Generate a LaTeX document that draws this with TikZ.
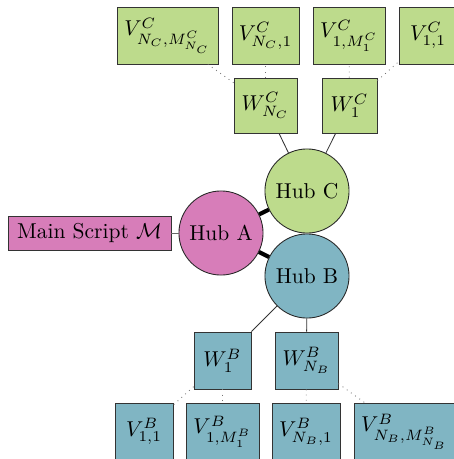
\documentclass[tikz,border=0pt]{standalone}
\usetikzlibrary{calc}
\definecolor{hubgreen}{RGB}{189,219,140}
\definecolor{hubpink}{RGB}{215,125,185}
\definecolor{hubblue}{RGB}{128,181,195}
\tikzset{
  hubnode/.style={circle, draw=black!85, thin, minimum size=39.1pt, inner sep=0pt},
  boxnode/.style={rectangle, draw=black!80, thin, minimum height=26.5pt, inner sep=0pt},
  hubedge/.style={line width=1.9pt, black},
  solidedge/.style={black!80, thin},
  dotedge/.style={black!55, dotted, thin},
}
\begin{document}
\begin{tikzpicture}[x=0.465pt, y=-0.465pt]
\useasboundingbox (0,0) rectangle (454,459);

% hubs
\node[hubnode, fill=hubpink]  (hubA) at (221,233) {Hub A};
\node[hubnode, fill=hubgreen] (hubC) at (307,191) {Hub C};
\node[hubnode, fill=hubblue]  (hubB) at (307,276) {Hub B};

% main script
\node[boxnode, fill=hubpink, minimum width=75.8pt, minimum height=15.8pt] (main) at (89.5,233) {Main Script $\mathcal{M}$};

% hub C workers and their tasks
\node[boxnode, fill=hubgreen, minimum width=29.3pt, minimum height=25.6pt] (wCN) at (265.5,105.5) {$W^C_{N_C}$};
\node[boxnode, fill=hubgreen, minimum width=25.6pt, minimum height=25.6pt] (wC1) at (349.5,105.5) {$W^C_{1}$};
\node[boxnode, fill=hubgreen, minimum width=47pt]   (vCNM) at (167.5,35.5) {$V^C_{N_C,M^C_{N_C}}$};
\node[boxnode, fill=hubgreen, minimum width=31.2pt] (vCN1) at (265.5,35.5) {$V^C_{N_C,1}$};
\node[boxnode, fill=hubgreen, minimum width=33.5pt] (vC1M) at (349,35.5)   {$V^C_{1,M^C_1}$};
\node[boxnode, fill=hubgreen, minimum width=27pt]   (vC11) at (428,35.5)   {$V^C_{1,1}$};

% hub B workers and their tasks
\node[boxnode, fill=hubblue, minimum width=26.5pt] (wB1) at (222.5,360.5) {$W^B_{1}$};
\node[boxnode, fill=hubblue, minimum width=29.3pt] (wBN) at (306.5,360.5) {$W^B_{N_B}$};
\node[boxnode, fill=hubblue, minimum width=27pt]   (vB11) at (144,431.5)   {$V^B_{1,1}$};
\node[boxnode, fill=hubblue, minimum width=34pt]   (vB1M) at (222.5,431.5) {$V^B_{1,M^B_1}$};
\node[boxnode, fill=hubblue, minimum width=31.6pt] (vBN1) at (306,431.5)   {$V^B_{N_B,1}$};
\node[boxnode, fill=hubblue, minimum width=47pt]   (vBNM) at (404.5,431.5) {$V^B_{N_B,M^B_{N_B}}$};

% connections
\draw[black!60, thin] (main) -- (hubA);
\draw[hubedge] (hubA) -- (hubC);
\draw[hubedge] (hubA) -- (hubB);

\draw[solidedge] (hubC) -- (wCN);
\draw[solidedge] (hubC) -- (wC1);
\draw[solidedge] (hubB) -- (wB1);
\draw[solidedge] (hubB) -- (wBN);

\draw[dotedge] (wCN) -- (vCNM);
\draw[dotedge] (wCN) -- (vCN1);
\draw[dotedge] (wC1) -- (vC1M);
\draw[dotedge] (wC1) -- (vC11);

\draw[dotedge] (wB1) -- (vB11);
\draw[dotedge] (wB1) -- (vB1M);
\draw[dotedge] (wBN) -- (vBN1);
\draw[dotedge] (wBN) -- (vBNM);
\end{tikzpicture}
\end{document}
